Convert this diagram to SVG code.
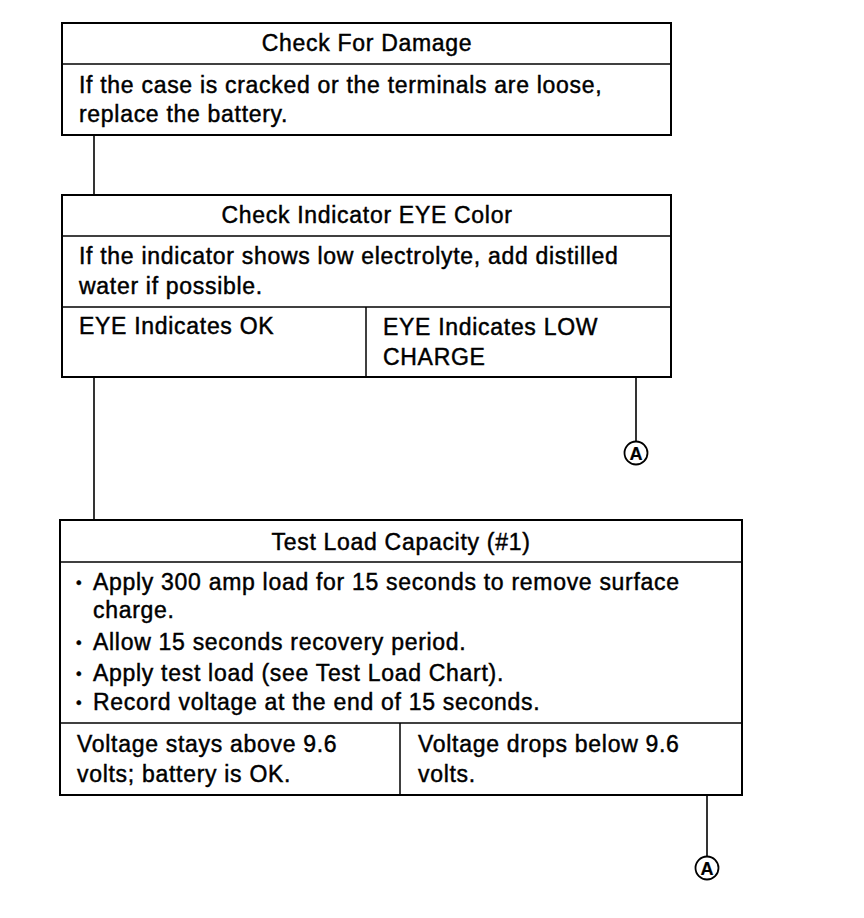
<svg xmlns="http://www.w3.org/2000/svg" width="864" height="918" viewBox="0 0 864 918">
<style>
.box{fill:#fff;stroke:#000;stroke-width:2}
.div{stroke:#000;stroke-width:1.5;fill:none}
.con{stroke:#000;stroke-width:1.6;fill:none}
text{font-family:"Liberation Sans",Arial,sans-serif;font-size:23px;letter-spacing:0.7px;fill:#000;stroke:#000;stroke-width:0.45}
.t{text-anchor:middle}
.circ{fill:#fff;stroke:#000;stroke-width:1.8}
.lbl{font-size:18px;font-weight:bold;text-anchor:middle;letter-spacing:0;stroke-width:0.2}
.bul{font-size:16px;letter-spacing:0}
</style>
<rect width="864" height="918" fill="#fff"/>
<g id="connectors">
<line class="con" x1="94" y1="135" x2="94" y2="195"/>
<line class="con" x1="94" y1="377" x2="94" y2="520"/>
<line class="con" x1="636" y1="377" x2="636" y2="442"/>
<line class="con" x1="707" y1="795" x2="707" y2="857"/>
</g>
<g id="n1">
<rect class="box" x="62" y="23" width="609" height="112"/>
<line class="div" x1="62" y1="64" x2="671" y2="64"/>
<text class="t" x="367" y="51">Check For Damage</text>
<text x="79" y="93">If the case is cracked or the terminals are loose,</text>
<text x="79" y="122">replace the battery.</text>
</g>
<g id="n2">
<rect class="box" x="62" y="195" width="609" height="182"/>
<line class="div" x1="62" y1="236" x2="671" y2="236"/>
<line class="div" x1="62" y1="307" x2="671" y2="307"/>
<line class="div" x1="366" y1="307" x2="366" y2="377"/>
<text class="t" x="367" y="223">Check Indicator EYE Color</text>
<text x="79" y="264">If the indicator shows low electrolyte, add distilled</text>
<text x="79" y="294">water if possible.</text>
<text x="79" y="334">EYE Indicates OK</text>
<text x="383" y="335">EYE Indicates LOW</text>
<text x="383" y="365">CHARGE</text>
</g>
<g id="a1">
<circle class="circ" cx="636" cy="453" r="11.5"/>
<text class="lbl" x="636" y="459.5">A</text>
</g>
<g id="n3">
<rect class="box" x="60" y="520" width="682" height="275"/>
<line class="div" x1="60" y1="562" x2="742" y2="562"/>
<line class="div" x1="60" y1="723" x2="742" y2="723"/>
<line class="div" x1="400" y1="723" x2="400" y2="795"/>
<text class="t" x="401" y="550">Test Load Capacity (#1)</text>
<text class="bul" x="76" y="588">•</text><text x="93" y="590">Apply 300 amp load for 15 seconds to remove surface</text>
<text x="93" y="618">charge.</text>
<text class="bul" x="76" y="648">•</text><text x="93" y="650">Allow 15 seconds recovery period.</text>
<text class="bul" x="76" y="679">•</text><text x="93" y="681">Apply test load (see Test Load Chart).</text>
<text class="bul" x="76" y="708">•</text><text x="93" y="710">Record voltage at the end of 15 seconds.</text>
<text x="77" y="752">Voltage stays above 9.6</text>
<text x="77" y="782">volts; battery is OK.</text>
<text x="418" y="752">Voltage drops below 9.6</text>
<text x="418" y="782">volts.</text>
</g>
<g id="a2">
<circle class="circ" cx="707" cy="868" r="11.5"/>
<text class="lbl" x="707" y="874.5">A</text>
</g>
</svg>
